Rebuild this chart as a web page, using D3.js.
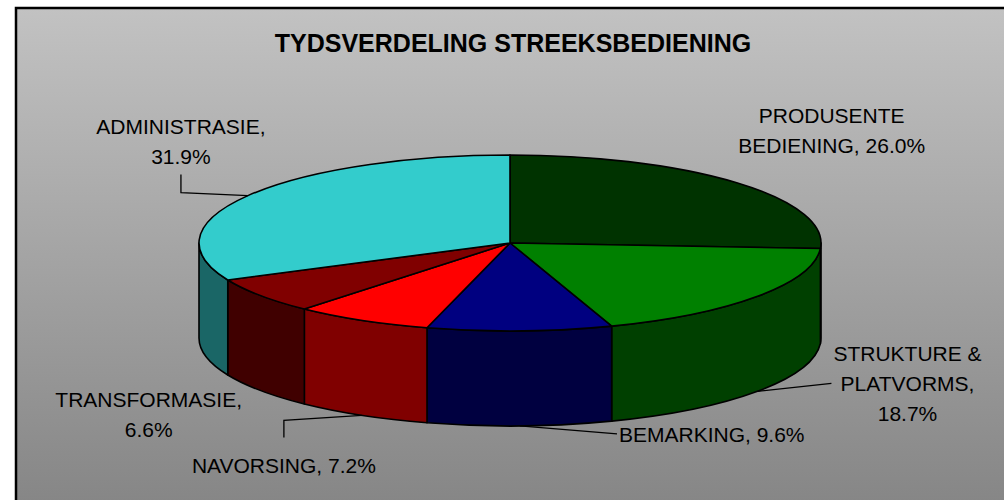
<!DOCTYPE html>
<html>
<head>
<meta charset="utf-8">
<script src="https://cdn.jsdelivr.net/npm/d3@7"></script>
<style>
	body { margin: 0; background: #fff; }
	svg { display: block; font-family: Arial, "Liberation Sans", sans-serif; }
</style>
</head>
<body>
<svg width="1004" height="500"></svg>
<script>
// Chart data
var title = 'TYDSVERDELING STREEKSBEDIENING';
var categories = ['PRODUSENTE BEDIENING', 'STRUKTURE & PLATVORMS', 'BEMARKING', 'NAVORSING', 'TRANSFORMASIE', 'ADMINISTRASIE'];
var values = [26.0, 18.7, 9.6, 7.2, 6.6, 31.9];
var topColors = ['#003300', '#008000', '#000080', '#ff0000', '#800000', '#33cccc'];
var sideColors = ['#001a00', '#004000', '#000040', '#800000', '#400000', '#1a6666'];
// how many words go on each label line
var labelWrap = [[1, 2], [2, 1, 1], [2], [2], [1, 1], [1, 1]];

// label placement (relative to the slice mid point on the pie rim)
var labelLayout = [
	{ dx: 95, dy: -52, leader: false },
	{ dx: 150, dy: -8, leader: true, bend: null },
	{ dx: 192, dy: 8, leader: true, bend: null },
	{ dx: -78, dy: 50, leader: true, bend: 'down' },
	{ dx: -112, dy: 24, leader: false },
	{ dx: -67, dy: -54, leader: true, bend: 'up' }
];

var svg = d3.select('svg'),
	W = +svg.attr('width'),
	H = +svg.attr('height');

var cx = 510, cy = 243, rx = 311, ry = 88, depth = 95;

var defs = svg.append('defs');
var grad = defs.append('linearGradient')
	.attr('id', 'bg')
	.attr('x1', 0).attr('y1', 0).attr('x2', 0).attr('y2', 1);
grad.append('stop').attr('offset', '0%').attr('stop-color', '#c2c2c2');
grad.append('stop').attr('offset', '100%').attr('stop-color', '#838383');

// chart frame (runs off the right and bottom edges)
svg.append('rect')
	.attr('x', 16).attr('y', 8)
	.attr('width', W + 20).attr('height', H + 20)
	.attr('fill', 'url(#bg)')
	.attr('stroke', '#000')
	.attr('stroke-width', 2.5);

svg.append('text')
	.attr('x', 513).attr('y', 52)
	.attr('text-anchor', 'middle')
	.attr('font-weight', 'bold')
	.attr('font-size', 25)
	.attr('fill', '#000')
	.text(title);

var pieData = d3.pie().sort(null).startAngle(0).endAngle(2 * Math.PI)(values);

// angle 0 = 12 o'clock, clockwise
function pt(a, dz) {
	return [cx + rx * Math.sin(a), cy - ry * Math.cos(a) + (dz || 0)];
}

function topPath(d) {
	var p0 = pt(d.startAngle), p1 = pt(d.endAngle);
	var large = (d.endAngle - d.startAngle) > Math.PI ? 1 : 0;
	return 'M' + cx + ',' + cy + 'L' + p0 + 'A' + rx + ',' + ry + ' 0 ' + large + ' 1 ' + p1 + 'Z';
}

function sidePath(d) {
	var a = Math.max(d.startAngle, Math.PI / 2),
		b = Math.min(d.endAngle, Math.PI * 1.5);
	if (b <= a) return null;
	var p0 = pt(a), p1 = pt(b), q1 = pt(b, depth), q0 = pt(a, depth);
	return 'M' + p0 + 'A' + rx + ',' + ry + ' 0 0 1 ' + p1 +
		'L' + q1 + 'A' + rx + ',' + ry + ' 0 0 0 ' + q0 + 'Z';
}

var g = svg.append('g');

g.selectAll('.side')
	.data(pieData.filter(function(d) { return sidePath(d) !== null; }))
	.enter().append('path')
	.attr('class', 'side')
	.attr('d', sidePath)
	.attr('fill', function(d) { return sideColors[d.index]; })
	.attr('stroke', '#000')
	.attr('stroke-width', 1.6)
	.attr('stroke-linejoin', 'round');

g.selectAll('.top')
	.data(pieData)
	.enter().append('path')
	.attr('class', 'top')
	.attr('d', topPath)
	.attr('fill', function(d) { return topColors[d.index]; })
	.attr('stroke', '#000')
	.attr('stroke-width', 1.6)
	.attr('stroke-linejoin', 'round');

// labels
var lineH = 30, fontSize = 21;

pieData.forEach(function(d, i) {
	var mid = (d.startAngle + d.endAngle) / 2;
	var front = Math.cos(mid) < 0;
	var anchor = pt(mid, front ? depth : 0);
	var lay = labelLayout[i];
	var words = (categories[i] + ', ' + values[i].toFixed(1) + '%').split(' ');
	var lines = [], k = 0;
	labelWrap[i].forEach(function(n) {
		lines.push(words.slice(k, k + n).join(' '));
		k += n;
	});
	var lx = anchor[0] + lay.dx,
		ly = anchor[1] + lay.dy;
	var nL = lines.length;
	var firstBase = ly - (nL - 1) * lineH / 2 + fontSize * 0.36;

	var t = svg.append('text')
		.attr('text-anchor', 'middle')
		.attr('font-size', fontSize)
		.attr('fill', '#000');
	lines.forEach(function(s, j) {
		t.append('tspan').attr('x', lx).attr('y', firstBase + j * lineH).text(s);
	});

	if (lay.leader) {
		var pts;
		if (lay.bend === 'up') {
			var topY = ly + (nL - 1) * lineH / 2 + 18;
			pts = [anchor, [lx, anchor[1] - 3], [lx, topY]];
		} else if (lay.bend === 'down') {
			var botY = ly - 28;
			pts = [anchor, [lx, anchor[1] + 5], [lx, botY]];
		} else {
			var bb = t.node().getBBox();
			var ex = lay.dx > 0 ? bb.x - 2 : bb.x + bb.width + 2;
			pts = [anchor, [ex, ly]];
		}
		svg.append('path')
			.attr('d', d3.line()(pts))
			.attr('fill', 'none')
			.attr('stroke', '#000')
			.attr('stroke-width', 1.3);
	}
});
</script>
</body>
</html>
